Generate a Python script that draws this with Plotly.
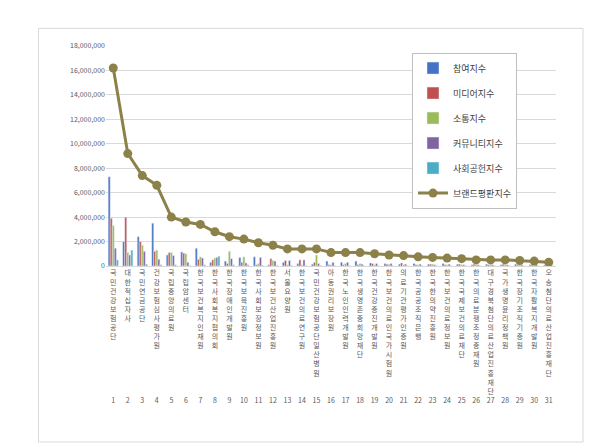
import plotly.graph_objects as go

names = ["국민건강보험공단","대한적십자사","국민연금공단","건강보험심사평가원","국립중앙의료원","국립암센터","한국보건복지인재원","한국사회복지협의회","한국장애인개발원","한국보육진흥원","한국사회보장정보원","한국보건산업진흥원","서울요양원","한국보건의료연구원","국민건강보험공단 일산병원","아동권리보장원","한국노인인력개발원","한국생명존중희망재단","한국건강증진개발원","한국보건의료인국가시험원","의료기관평가인증원","한국공공조직은행","한국한의약진흥원","한국보건의료정보원","한국국제보건의료재단","한국의료분쟁조정중재원","대구경북첨단의료산업진흥재단","국가생명윤리정책원","한국장기조직기증원","한국자활복지개발원","오송첨단의료산업진흥재단"]
participation = [7300000,2000000,2400000,3500000,900000,1150000,1450000,300000,400000,700000,750000,100000,300000,200000,150000,400000,300000,400000,250000,200000,150000,200000,150000,200000,150000,100000,150000,100000,150000,100000,80000]
media = [3900000,4000000,2000000,1200000,1100000,1050000,550000,500000,200000,300000,100000,600000,450000,500000,300000,100000,100000,100000,200000,150000,250000,100000,150000,100000,150000,150000,100000,150000,100000,100000,80000]
communication = [3300000,1100000,1700000,1300000,1100000,1000000,750000,650000,1200000,750000,200000,450000,100000,100000,900000,100000,200000,200000,100000,150000,100000,100000,150000,100000,100000,100000,100000,100000,100000,100000,50000]
community = [1450000,900000,1200000,550000,850000,300000,650000,700000,600000,250000,700000,400000,450000,500000,200000,300000,300000,150000,200000,200000,150000,150000,100000,150000,100000,100000,100000,100000,100000,100000,50000]
social = [500000,1300000,150000,100000,100000,50000,100000,800000,100000,100000,50000,50000,50000,50000,50000,20000,20000,20000,20000,20000,20000,20000,20000,20000,20000,20000,20000,20000,20000,20000,20000]
brand = [16200000,9200000,7400000,6600000,4000000,3600000,3400000,2800000,2400000,2200000,1900000,1700000,1400000,1400000,1400000,1100000,1100000,1100000,1000000,900000,850000,750000,700000,650000,600000,500000,500000,500000,450000,400000,300000]

ranks = list(range(1, len(names) + 1))
maxlen = 14
ticktext = []
for i, n in enumerate(names):
    chars = [c for c in n if c != " "]
    lines = chars + [""] * (maxlen - len(chars)) + [str(i + 1)]
    ticktext.append("<br>".join(lines))

fig = go.Figure()
series = [("참여지수", participation, "#4472C4"), ("미디어지수", media, "#C0504D"),
          ("소통지수", communication, "#9BBB59"), ("커뮤니티지수", community, "#8064A2"),
          ("사회공헌지수", social, "#4BACC6")]
for nm, vals, col in series:
    fig.add_bar(x=ranks, y=vals, name=nm, marker_color=col, legendgroup=nm)
fig.add_scatter(x=ranks, y=brand, name="브랜드평판지수", mode="lines+markers",
                line=dict(color="#8C8148", width=3), marker=dict(size=9, color="#8C8148"),
                legendgroup="b")

fig.update_layout(
    width=600, height=444, paper_bgcolor="white", plot_bgcolor="white",
    font=dict(family="Noto Sans CJK KR", size=8, color="#595959"),
    margin=dict(l=98, r=52, t=38, b=186, autoexpand=False),
    barmode="group", bargap=0.3, bargroupgap=0,
    showlegend=True,
    legend=dict(x=0.68, y=0.97, xanchor="left", yanchor="top", bgcolor="white",
                bordercolor="#BFBFBF", borderwidth=1, tracegroupgap=6,
                font=dict(size=9, color="#404040")),
    xaxis=dict(tickmode="array", tickvals=ranks, ticktext=ticktext, tickangle=0,
               showgrid=False, showline=True, linecolor="#D9D9D9", ticks="",
               automargin=False, range=[0.5, len(names) + 0.5], tickfont=dict(size=7)),
    yaxis=dict(range=[0, 18000000], dtick=2000000, tickformat=",", showgrid=True,
               gridcolor="#D9D9D9", zeroline=False, automargin=False, tickfont=dict(size=7)),
    shapes=[dict(type="rect", xref="paper", yref="paper", x0=-0.15, x1=1.06, y0=-0.80, y1=1.08,
                 line=dict(color="#D9D9D9", width=1))],
)
fig.write_html("out.html")
